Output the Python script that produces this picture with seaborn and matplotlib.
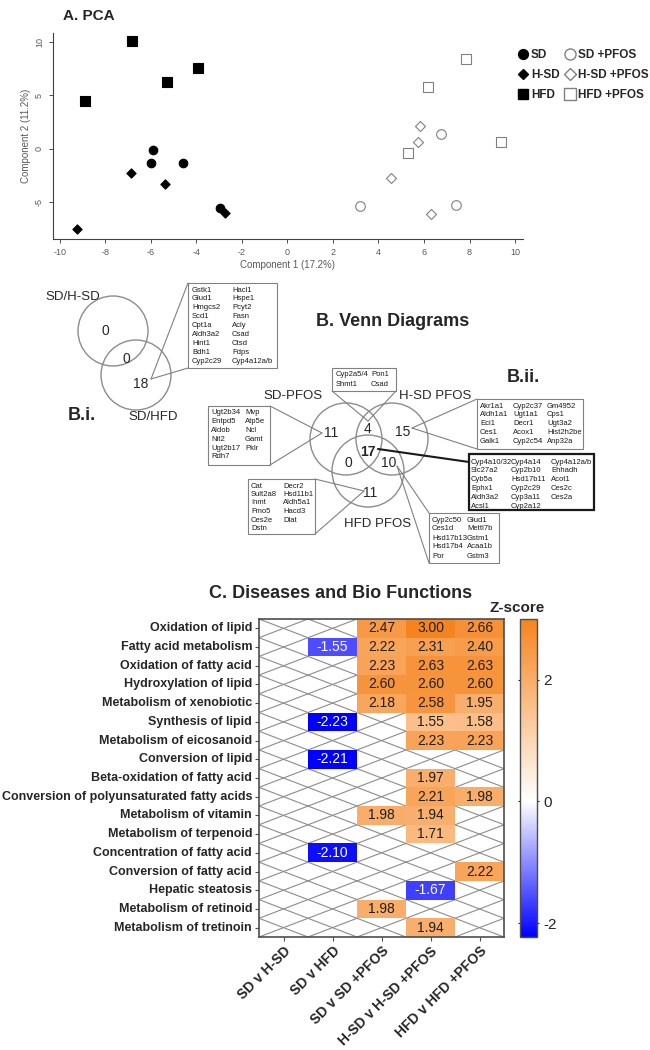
import numpy as np
import pandas as pd
import matplotlib
matplotlib.use('Agg')
import matplotlib.pyplot as plt
from matplotlib.patches import Circle, Rectangle
from matplotlib.colors import LinearSegmentedColormap
from matplotlib.lines import Line2D
import seaborn as sns

sns.set_style('ticks')
plt.rcParams['font.family'] = ['Liberation Sans', 'DejaVu Sans']
plt.rcParams['axes.unicode_minus'] = False

# ---- A. PCA scores ----
sd_x = [-5.92, -6.01, -4.60, -2.96]
sd_y = [-0.18, -1.36, -1.36, -5.56]
hsd_x = [-6.86, -5.38, -9.24, -2.75]
hsd_y = [-2.29, -3.29, -7.52, -6.03]
hfd_x = [-6.85, -8.89, -5.29, -3.91]
hfd_y = [10.1, 4.46, 6.27, 7.57]
sd_pfos_x = [3.20, 6.74, 7.41]
sd_pfos_y = [-5.41, 1.34, -5.34]
hsd_pfos_x = [5.83, 5.72, 4.56, 6.32]
hsd_pfos_y = [2.12, 0.57, -2.76, -6.18]
hfd_pfos_x = [7.86, 6.19, 5.29, 9.40]
hfd_pfos_y = [8.38, 5.80, -0.43, 0.57]

# ---- B. Venn counts and genes ----
bi_counts = ['0', '0', '18']
bii_counts = ['11', '4', '15', '17', '0', '10', '11']

bi_genes = [['Gstk1', 'Hacl1'], ['Glud1', 'Hspe1'], ['Hmgcs2', 'Pcyt2'],
            ['Scd1', 'Fasn'], ['Cpt1a', 'Acly'], ['Aldh3a2', 'Csad'],
            ['Hint1', 'Ctsd'], ['Bdh1', 'Fdps'], ['Cyp2c29', 'Cyp4a12a/b']]
top_genes = [['Cyp2a5/4', 'Pon1'], ['Shmt1', 'Csad']]
sd_pfos_genes = [['Ugt2b34', 'Mvp'], ['Entpd5', 'Atp5e'], ['Aldob', 'Ncl'],
                 ['Nit2', 'Gamt'], ['Ugt2b17', 'Pklr'], ['Rdh7', '']]
hsd_pfos_genes = [['Akr1a1', 'Cyp2c37', 'Gm4952'], ['Aldh1a1', 'Ugt1a1', 'Cps1'],
                  ['Eci1', 'Decr1', 'Ugt3a2'], ['Ces1', 'Acox1', 'Hist2h2be'],
                  ['Galk1', 'Cyp2c54', 'Anp32a']]
core_genes = [['Cyp4a10/32', 'Cyp4a14', 'Cyp4a12a/b'], ['Slc27a2', 'Cyp2b10', 'Ehhadh'],
              ['Cyb5a', 'Hsd17b11', 'Acot1'], ['Ephx1', 'Cyp2c29', 'Ces2c'],
              ['Aldh3a2', 'Cyp3a11', 'Ces2a'], ['Acsl1', 'Cyp2a12', '']]
hfd_pfos_genes = [['Cat', 'Decr2'], ['Sult2a8', 'Hsd11b1'], ['Inmt', 'Aldh5a1'],
                  ['Fmo5', 'Hacd3'], ['Ces2e', 'Dlat'], ['Dstn', '']]
hsd_hfd_genes = [['Cyp2c50', 'Glud1'], ['Ces1d', 'Mettl7b'], ['Hsd17b13', 'Gstm1'],
                 ['Hsd17b4', 'Acaa1b'], ['Por', 'Gstm3']]

# ---- C. Z-scores ----
functions = ['Oxidation of lipid', 'Fatty acid metabolism', 'Oxidation of fatty acid',
             'Hydroxylation of lipid', 'Metabolism of xenobiotic', 'Synthesis of lipid',
             'Metabolism of eicosanoid', 'Conversion of lipid', 'Beta-oxidation of fatty acid',
             'Conversion of polyunsaturated fatty acids', 'Metabolism of vitamin',
             'Metabolism of terpenoid', 'Concentration of fatty acid',
             'Conversion of fatty acid', 'Hepatic steatosis', 'Metabolism of retinoid',
             'Metabolism of tretinoin']
comparisons = ['SD v H-SD', 'SD v HFD', 'SD v SD +PFOS', 'H-SD v H-SD +PFOS', 'HFD v HFD +PFOS']
n = np.nan
sd_v_hsd = [n] * 17
sd_v_hfd = [n, -1.55, n, n, n, -2.23, n, -2.21, n, n, n, n, -2.10, n, n, n, n]
sd_v_sdpfos = [2.47, 2.22, 2.23, 2.60, 2.18, n, n, n, n, n, 1.98, n, n, n, n, 1.98, n]
hsd_v_hsdpfos = [3.00, 2.31, 2.63, 2.60, 2.58, 1.55, 2.23, n, 1.97, 2.21, 1.94, 1.71, n, n, -1.67, n, 1.94]
hfd_v_hfdpfos = [2.66, 2.40, 2.63, 2.60, 1.95, 1.58, 2.23, n, n, 1.98, n, n, n, 2.22, n, n, n]

W, H = 650, 1050
fig = plt.figure(figsize=(6.5, 10.5), dpi=100)


def px_axes(x0, y0, x1, y1):
    return fig.add_axes([x0 / W, 1 - y1 / H, (x1 - x0) / W, (y1 - y0) / H])


# overlay in pixel coords for titles and Venn diagrams
ov = fig.add_axes([0, 0, 1, 1])
ov.set_xlim(0, W)
ov.set_ylim(H, 0)
ov.axis('off')

ov.text(63, 16, 'A. PCA', fontsize=11, fontweight='bold', va='center')
ov.text(393, 322, 'B. Venn Diagrams', fontsize=13, fontweight='bold', ha='center', va='center')
ov.text(341, 594, 'C. Diseases and Bio Functions', fontsize=13, fontweight='bold',
        ha='center', va='center')

# ---------- PCA ----------
ax = px_axes(53, 33, 523, 239)
groups = [('SD', sd_x, sd_y, 'o', True, 38), ('H-SD', hsd_x, hsd_y, 'D', True, 22),
          ('HFD', hfd_x, hfd_y, 's', True, 42),
          ('SD +PFOS', sd_pfos_x, sd_pfos_y, 'o', False, 48),
          ('H-SD +PFOS', hsd_pfos_x, hsd_pfos_y, 'D', False, 26),
          ('HFD +PFOS', hfd_pfos_x, hfd_pfos_y, 's', False, 48)]
handles = []
for lab, xs, ys, mk, filled, s in groups:
    fc = 'black' if filled else 'white'
    ec = 'black' if filled else '0.5'
    sns.scatterplot(x=xs, y=ys, marker=mk, s=s, color=fc, edgecolor=ec,
                    linewidth=0.8, ax=ax, legend=False, zorder=3)
    handles.append(Line2D([], [], ls='', marker=mk, markersize=np.sqrt(s) * 1.15,
                          markerfacecolor=fc, markeredgecolor=ec, label=lab))
ax.set_xlim(-10.3, 10.35)
ax.set_ylim(-8.5, 10.85)
ax.set_xticks(range(-10, 11, 2))
ax.set_yticks([-5, 0, 5, 10])
ax.tick_params(labelsize=6.5, labelcolor='0.35', length=3, width=0.7, color='0.3')
plt.setp(ax.get_yticklabels(), rotation=90, va='center')
ax.set_xlabel('Component 1 (17.2%)', fontsize=7, color='0.35', labelpad=2)
ax.set_ylabel('Component 2 (11.2%)', fontsize=7, color='0.35', labelpad=3)
sns.despine(ax=ax)
for sp in ['left', 'bottom']:
    ax.spines[sp].set_linewidth(0.8)
    ax.spines[sp].set_color('0.25')
fig.legend(handles=handles, ncol=2, loc='upper left', bbox_to_anchor=(512 / W, 1 - 44 / H),
           frameon=False, prop={'weight': 'bold', 'size': 8.5}, handletextpad=0.2,
           columnspacing=0.4, labelspacing=0.7, handlelength=1.0, borderaxespad=0)

# ---------- Venn helpers ----------
grey = '0.5'


def gene_box(x0, y0, x1, y1, rows, colx, y_first, dy, lw=0.8, ec=grey):
    ov.add_patch(Rectangle((x0, y0), x1 - x0, y1 - y0, fill=False, ec=ec, lw=lw))
    for i, row in enumerate(rows):
        for cx, g in zip(colx, row):
            ov.text(cx, y_first + i * dy, g, fontsize=5.5, va='center', ha='left', color='0.1')


def callout(apex, pts, lw=0.8, color=grey):
    for p in pts:
        ov.plot([apex[0], p[0]], [apex[1], p[1]], color=color, lw=lw)


def ring(cx, cy, r=36):
    ov.add_patch(Circle((cx, cy), r, fill=False, ec='0.55', lw=1.0))


# B.i
ring(113, 331, 35)
ring(136, 375, 35)
ov.text(73, 297, 'SD/H-SD', fontsize=9.5, ha='center', va='center')
ov.text(153, 417, 'SD/HFD', fontsize=9.5, ha='center', va='center')
ov.text(82, 415, 'B.i.', fontsize=13, fontweight='bold', ha='center', va='center')
for (tx, ty), c in zip([(105, 331), (126, 359), (141, 384)], bi_counts):
    ov.text(tx, ty, c, fontsize=10, ha='center', va='center')
gene_box(188, 283, 277, 368, bi_genes, [192, 232], 290, 8.9)
callout((151, 379), [(188, 283), (188, 368)])

# B.ii
ring(346, 439)
ring(392, 439)
ring(368, 471)
ov.text(507, 377, 'B.ii.', fontsize=13, fontweight='bold', ha='left', va='center')
ov.text(293, 396, 'SD-PFOS', fontsize=9.5, ha='center', va='center')
ov.text(435, 396, 'H-SD PFOS', fontsize=9.5, ha='center', va='center')
ov.text(378, 524, 'HFD PFOS', fontsize=9.5, ha='center', va='center')
pos = [(331, 433), (368, 429), (403, 432), (368, 452), (348, 463), (389, 463), (370, 493)]
for i, ((tx, ty), c) in enumerate(zip(pos, bii_counts)):
    ov.text(tx, ty, c, fontsize=10, ha='center', va='center',
            fontweight='bold' if i == 3 else 'normal')

gene_box(332, 368, 396, 391, top_genes, [336, 371], 375, 9)
callout((368, 421), [(332, 391), (396, 391)])
gene_box(208, 406, 270, 465, sd_pfos_genes, [211, 245], 413, 8.8)
callout((322, 433), [(270, 406), (270, 465)])
gene_box(477, 399, 583, 449, hsd_pfos_genes, [480, 513, 547], 406, 8.8)
callout((412, 428), [(477, 399), (477, 449)])
gene_box(469, 454, 594, 510, core_genes, [471, 511, 551], 462, 8.8, lw=1.6, ec='0.1')
callout((378, 449), [(469, 462)], lw=1.5, color='0.1')
gene_box(248, 479, 315, 534, hfd_pfos_genes, [251, 283], 486, 8.5)
callout((364, 491), [(315, 479), (315, 534)])
gene_box(429, 513, 499, 563, hsd_hfd_genes, [432, 467], 520, 9)
callout((397, 466), [(429, 513), (429, 563)])

# ---------- Heatmap ----------
zdf = pd.DataFrame({comparisons[0]: sd_v_hsd, comparisons[1]: sd_v_hfd,
                    comparisons[2]: sd_v_sdpfos, comparisons[3]: hsd_v_hsdpfos,
                    comparisons[4]: hfd_v_hfdpfos}, index=functions)
vmin, vmax = -2.23, 3.0
cmap = LinearSegmentedColormap.from_list(
    'zs', [(0, '#0000ff'), (-vmin / (vmax - vmin), '#ffffff'), (1, '#f5841f')])

axh = px_axes(259, 619, 504, 937)
axc = px_axes(520, 619, 537, 937)
sns.heatmap(zdf, ax=axh, cmap=cmap, vmin=vmin, vmax=vmax, annot=True, fmt='.2f',
            annot_kws={'fontsize': 10}, cbar_ax=axc, cbar_kws={'ticks': [-2, 0, 2]})

# dark numbers on orange, white on blue
for t in axh.texts:
    t.set_color('white' if t.get_text().startswith('-') else '0.12')

vals = zdf.values
for i in range(vals.shape[0]):
    for j in range(vals.shape[1]):
        if np.isnan(vals[i, j]):
            axh.plot([j, j + 1], [i, i + 1], color='0.55', lw=0.8, zorder=0.5)
            axh.plot([j, j + 1], [i + 1, i], color='0.55', lw=0.8, zorder=0.5)

for sp in axh.spines.values():
    sp.set_visible(True)
    sp.set_color('0.3')
    sp.set_linewidth(1.2)
axh.set_yticklabels(functions, rotation=0, fontsize=9, fontweight='bold')
axh.set_xticklabels(comparisons, rotation=45, ha='right', rotation_mode='anchor',
                    fontsize=10, fontweight='bold')
axh.tick_params(length=3, width=0.8, color='0.3', pad=2)

cb = axh.collections[0].colorbar
cb.outline.set_edgecolor('0.3')
cb.outline.set_linewidth(1)
axc.tick_params(labelsize=11, length=3, width=0.8, left=True, right=True,
                direction='inout', pad=3)
ov.text(517, 608, 'Z-score', fontsize=11, fontweight='bold', ha='center', va='center')

fig.savefig('out.png', dpi=100)
